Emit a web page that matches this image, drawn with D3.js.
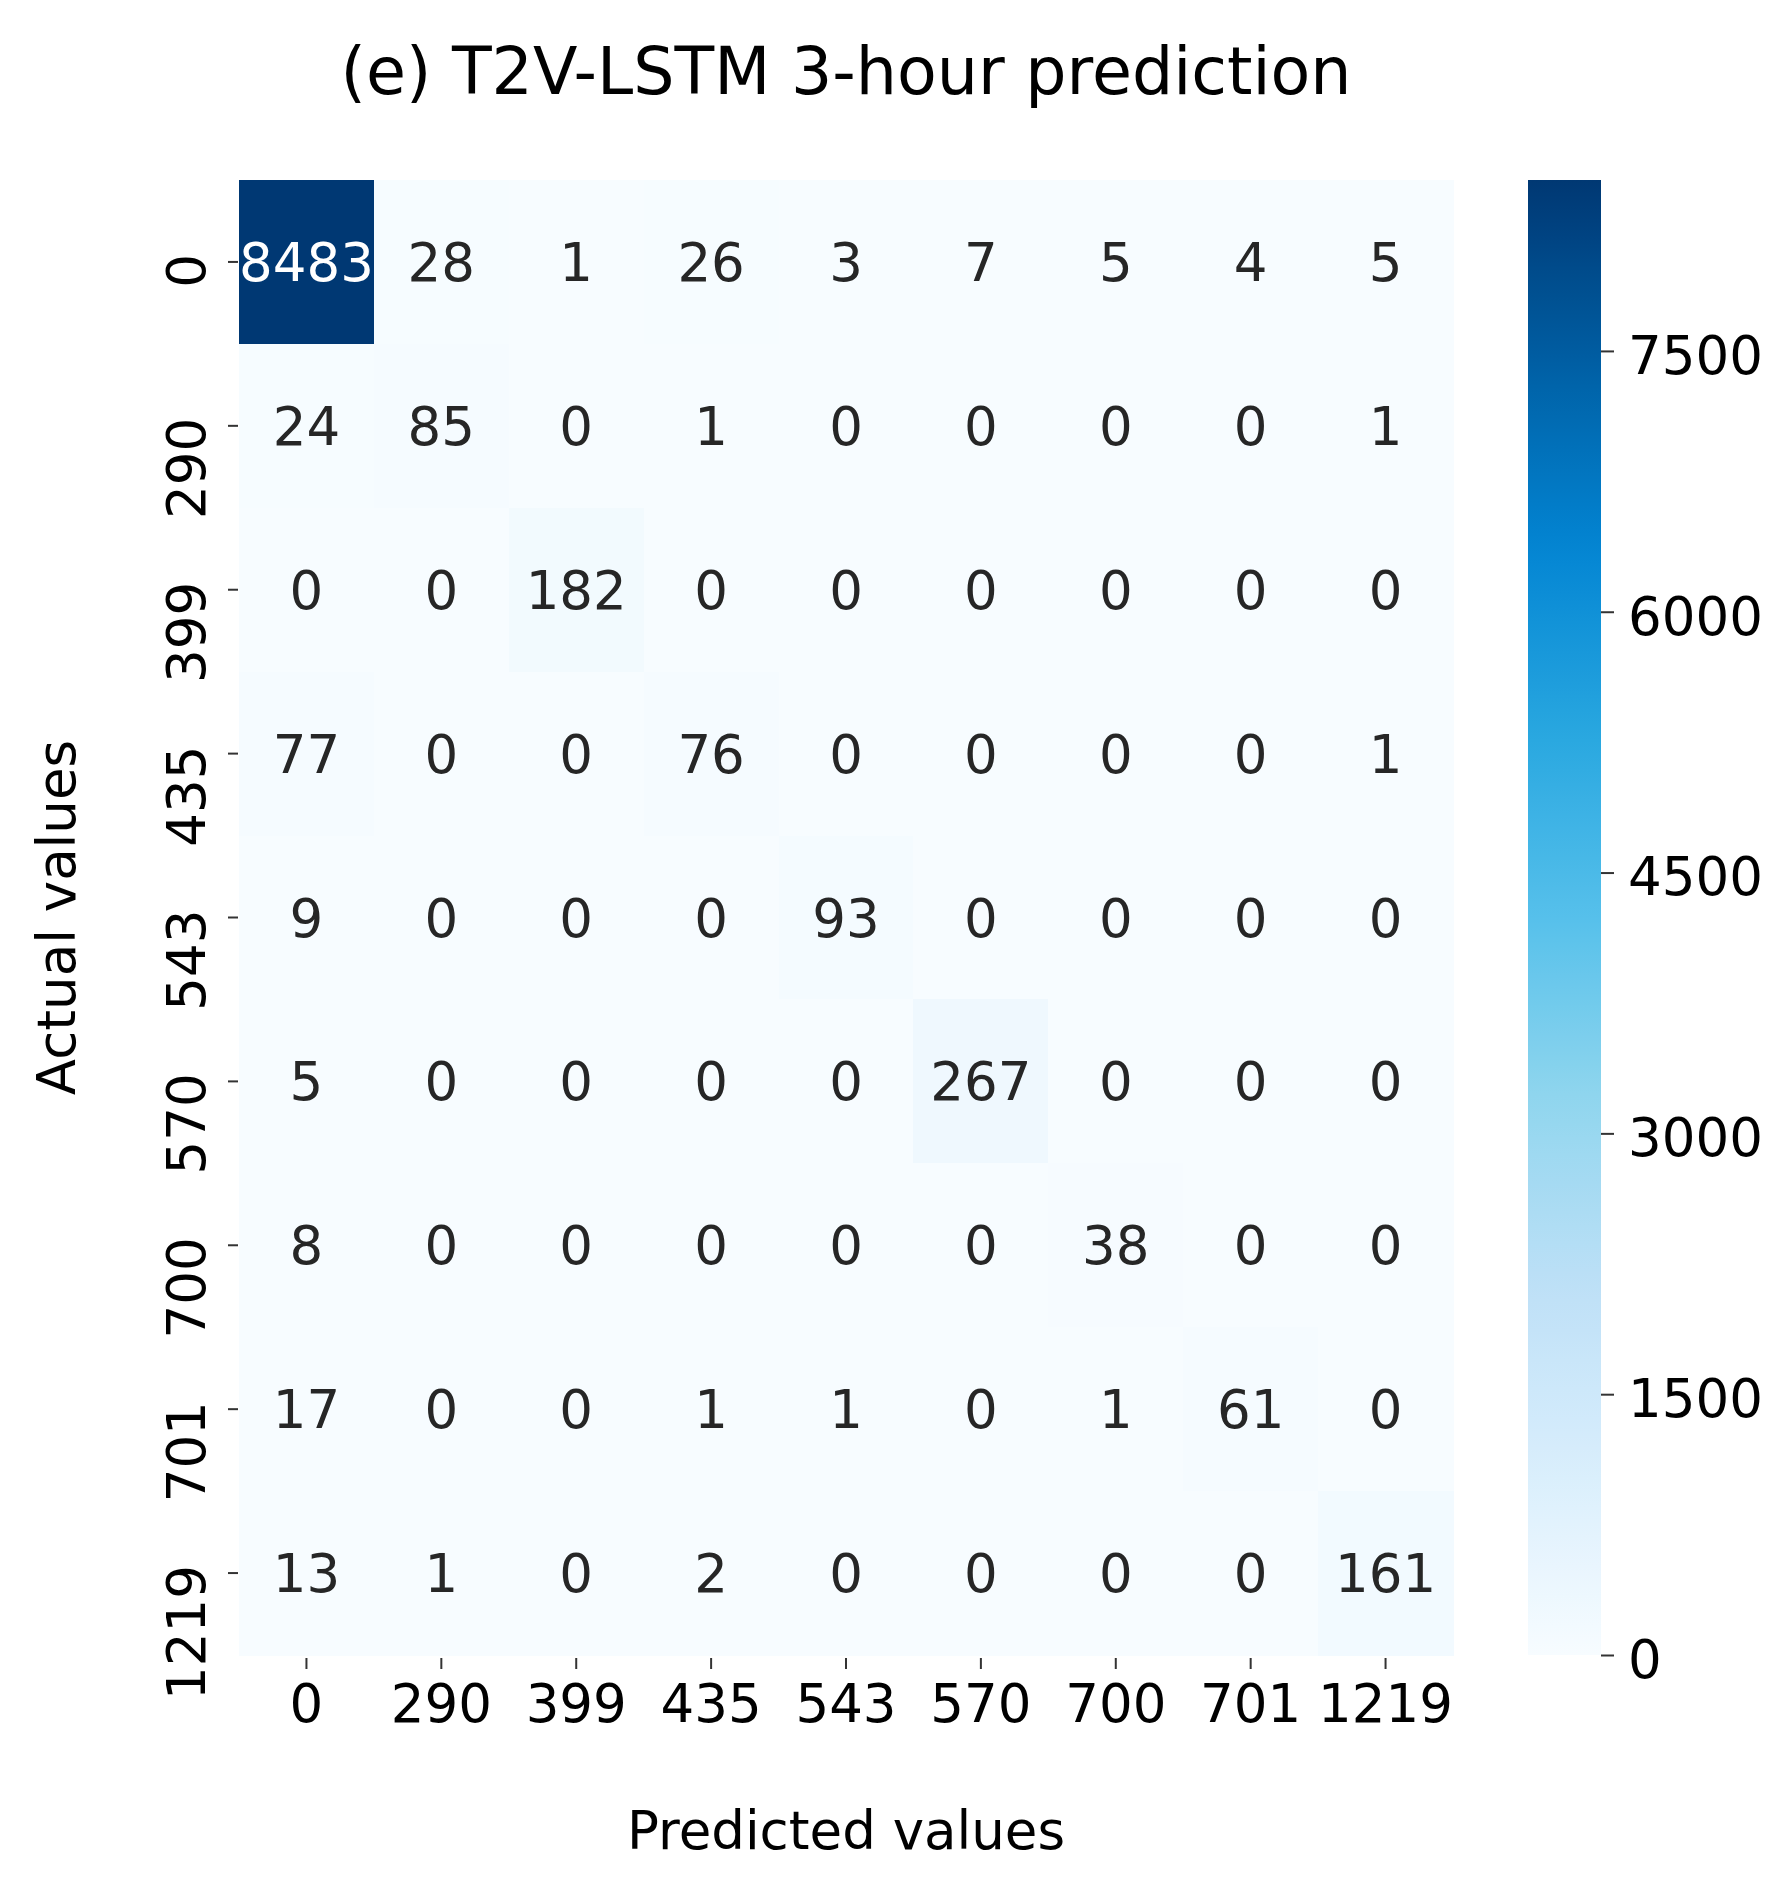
<!DOCTYPE html>
<html lang="en">
<head>
    <meta charset="UTF-8">
    <title>(e) T2V-LSTM 3-hour prediction</title>
    <script src="https://d3js.org/d3.v7.min.js"></script>
    <style>
        body {
            margin: 0;
            background: #fff;
            font-family: "DejaVu Sans", sans-serif;
        }
        svg text {
            font-family: "DejaVu Sans", sans-serif;
        }
    </style>
</head>
<body>

<svg width="1791" height="1884"></svg>

<script>
    // Class labels (same for actual and predicted)
    const classLabels = ["0", "290", "399", "435", "543", "570", "700", "701", "1219"];

    // Confusion matrix rows = actual values, columns = predicted values
    const row0    = [8483, 28, 1, 26, 3, 7, 5, 4, 5];
    const row290  = [24, 85, 0, 1, 0, 0, 0, 0, 1];
    const row399  = [0, 0, 182, 0, 0, 0, 0, 0, 0];
    const row435  = [77, 0, 0, 76, 0, 0, 0, 0, 1];
    const row543  = [9, 0, 0, 0, 93, 0, 0, 0, 0];
    const row570  = [5, 0, 0, 0, 0, 267, 0, 0, 0];
    const row700  = [8, 0, 0, 0, 0, 0, 38, 0, 0];
    const row701  = [17, 0, 0, 1, 1, 0, 1, 61, 0];
    const row1219 = [13, 1, 0, 2, 0, 0, 0, 0, 161];
    const matrix = [row0, row290, row399, row435, row543, row570, row700, row701, row1219];

    // Colorbar tick values
    const colorbarTicks = [0, 1500, 3000, 4500, 6000, 7500];

    // matplotlib "Blues" anchor colours
    const bluesStops = ["#f7fbff", "#deebf7", "#c6dbef", "#9ecae1", "#6baed6",
                        "#4292c6", "#2171b5", "#08519c", "#08306b"];

    const svg = d3.select("svg");
    const fontSize = 53;

    // heatmap and colorbar boxes
    const heat = { left: 239, right: 1453, top: 180, bottom: 1655 };
    const cbar = { left: 1528, right: 1601 };

    const vmax = d3.max(matrix.flat());

    const x = d3.scaleBand().domain(classLabels).range([heat.left, heat.right]);
    const y = d3.scaleBand().domain(classLabels).range([heat.top, heat.bottom]);

    // a bit more saturated and toward cyan, like the printed figure
    const boosted = bluesStops.map(c => {
        const h = d3.hsl(c);
        h.s = Math.min(1, h.s * 1.4);
        h.h = h.h - 5;
        return h.formatHex();
    });
    const color = d3.scaleLinear()
        .domain(d3.range(boosted.length).map(i => i * vmax / (boosted.length - 1)))
        .range(boosted)
        .interpolate(d3.interpolateRgb);

    // relative luminance, used to pick annotation colour (seaborn style)
    function luminance(c) {
        const rgb = d3.rgb(c);
        const f = v => {
            v = v / 255;
            return v <= 0.03928 ? v / 12.92 : Math.pow((v + 0.055) / 1.055, 2.4);
        };
        return 0.2126 * f(rgb.r) + 0.7152 * f(rgb.g) + 0.0722 * f(rgb.b);
    }

    const cells = [];
    matrix.forEach((row, i) => row.forEach((v, j) => {
        cells.push({ actual: classLabels[i], predicted: classLabels[j], value: v });
    }));

    // cells
    svg.append("g")
        .selectAll("rect")
        .data(cells)
        .enter()
        .append("rect")
        .attr("x", d => x(d.predicted))
        .attr("y", d => y(d.actual))
        .attr("width", x.bandwidth() + 0.5)
        .attr("height", y.bandwidth() + 0.5)
        .attr("fill", d => color(d.value))
        .attr("shape-rendering", "crispEdges");

    // annotations
    svg.append("g")
        .selectAll("text")
        .data(cells)
        .enter()
        .append("text")
        .attr("x", d => x(d.predicted) + x.bandwidth() / 2)
        .attr("y", d => y(d.actual) + y.bandwidth() / 2)
        .attr("dy", "0.36em")
        .attr("text-anchor", "middle")
        .style("font-size", fontSize + "px")
        .style("fill", d => luminance(color(d.value)) > 0.408 ? "#262626" : "#ffffff")
        .text(d => d.value);

    // x axis
    const xAxis = svg.append("g")
        .attr("transform", `translate(0,${heat.bottom + 3})`)
        .call(d3.axisBottom(x).tickSize(11).tickPadding(15));
    xAxis.select(".domain").remove();
    xAxis.selectAll("line").attr("stroke", "#333").attr("stroke-width", 2);
    xAxis.selectAll("text")
        .attr("dy", "0.71em")
        .style("font-size", fontSize + "px")
        .style("fill", "#000");

    // y axis, labels rotated like matplotlib
    const yAxis = svg.append("g")
        .attr("transform", `translate(${heat.left - 1},0)`)
        .call(d3.axisLeft(y).tickSize(10));
    yAxis.select(".domain").remove();
    yAxis.selectAll("line").attr("stroke", "#333").attr("stroke-width", 2);
    yAxis.selectAll("text")
        .attr("x", 0)
        .attr("y", 0)
        .attr("dy", 0)
        .attr("text-anchor", "end")
        .attr("transform", "translate(-33,-8) rotate(-90)")
        .style("font-size", fontSize + "px")
        .style("fill", "#000");

    // colorbar
    const cScale = d3.scaleLinear().domain([0, vmax]).range([heat.bottom, heat.top]);
    const defs = svg.append("defs");
    const grad = defs.append("linearGradient")
        .attr("id", "cbar-grad")
        .attr("x1", "0").attr("y1", "1")
        .attr("x2", "0").attr("y2", "0");
    d3.range(0, 1.0001, 0.02).forEach(t => {
        grad.append("stop")
            .attr("offset", t)
            .attr("stop-color", color(t * vmax));
    });
    svg.append("rect")
        .attr("x", cbar.left)
        .attr("y", heat.top)
        .attr("width", cbar.right - cbar.left)
        .attr("height", heat.bottom - heat.top)
        .attr("fill", "url(#cbar-grad)");

    const cAxis = svg.append("g")
        .attr("transform", `translate(${cbar.right},0)`)
        .call(d3.axisRight(cScale).tickValues(colorbarTicks).tickSize(13).tickPadding(14).tickFormat(d => d));
    cAxis.select(".domain").remove();
    cAxis.selectAll("line").attr("stroke", "#333").attr("stroke-width", 2);
    cAxis.selectAll("text")
        .attr("dy", "0.42em")
        .style("font-size", fontSize + "px")
        .style("fill", "#000");

    // title and axis titles
    svg.append("text")
        .attr("x", (heat.left + heat.right) / 2)
        .attr("y", 94)
        .attr("text-anchor", "middle")
        .style("font-size", "65px")
        .style("fill", "#000")
        .text("(e) T2V-LSTM 3-hour prediction");

    svg.append("text")
        .attr("x", (heat.left + heat.right) / 2)
        .attr("y", 1849)
        .attr("text-anchor", "middle")
        .style("font-size", fontSize + "px")
        .style("fill", "#000")
        .text("Predicted values");

    svg.append("text")
        .attr("transform", `translate(75,${(heat.top + heat.bottom) / 2}) rotate(-90)`)
        .attr("text-anchor", "middle")
        .style("font-size", fontSize + "px")
        .style("fill", "#000")
        .text("Actual values");
</script>

</body>
</html>
